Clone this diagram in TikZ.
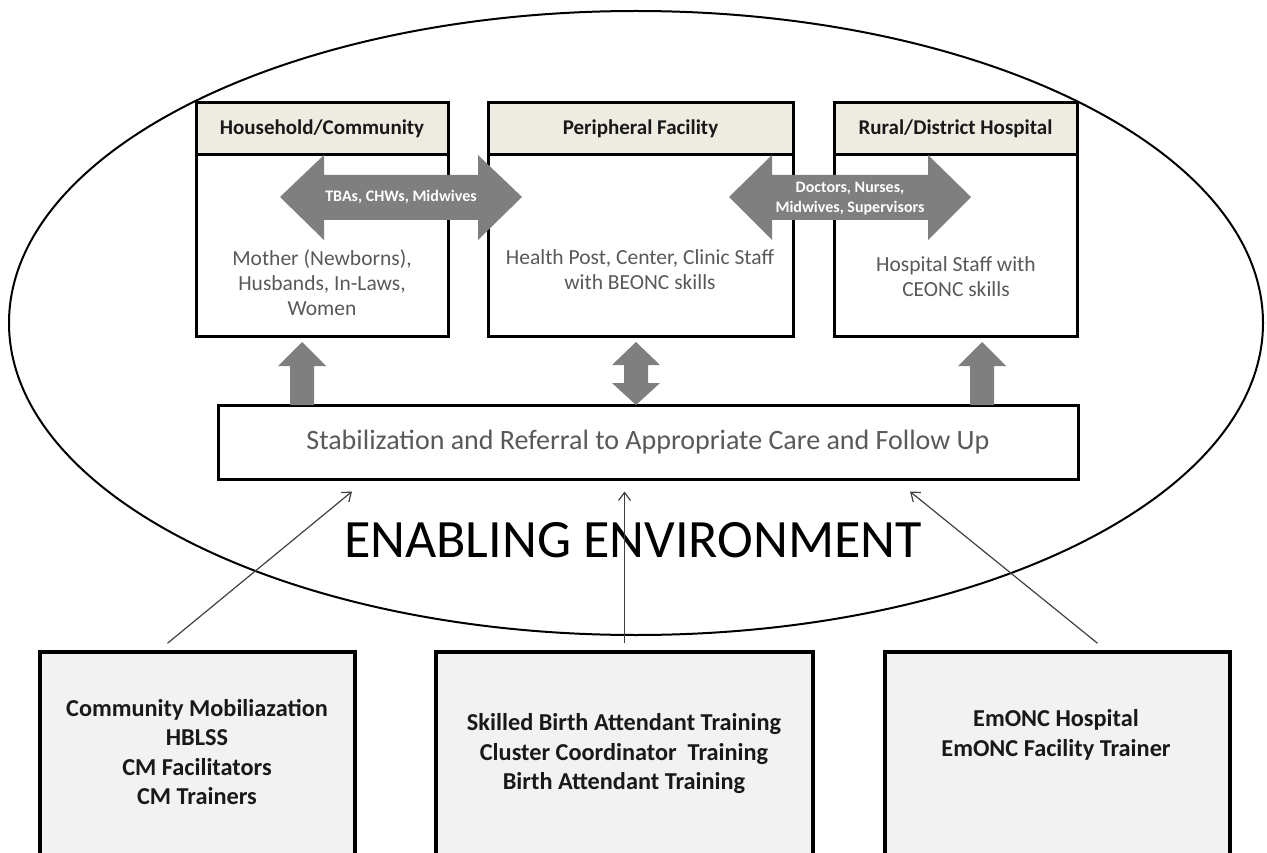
\documentclass[tikz,border=0pt]{standalone}
\usepackage{fontspec}
\setmainfont{Carlito}
\usepackage{tikz}
\usetikzlibrary{arrows.meta, positioning, calc}
\usepackage{xcolor}
\definecolor{headfill}{HTML}{EEECE1}
\definecolor{trainfill}{HTML}{F2F2F2}
\definecolor{blockgray}{HTML}{7F7F7F}
\definecolor{softtext}{HTML}{595959}

\begin{document}
\begin{tikzpicture}[x=1pt, y=-1pt,
  header/.style={draw, line width=3pt, fill=headfill, minimum height=52, inner sep=0pt, text=black!90, font=\bfseries\fontsize{21}{25}\selectfont},
  cell/.style={draw, line width=3pt, fill=white, minimum height=181, inner sep=0pt},
  celltext/.style={align=center, text=softtext, font=\fontsize{21.5}{25}\selectfont},
  blockarrow/.style={fill=blockgray},
  arrowtext/.style={align=center, text=white, font=\bfseries\fontsize{16}{20}\selectfont},
  trainbox/.style={draw, line width=3.5pt, fill=trainfill, minimum height=218, inner sep=0pt},
  traintext/.style={align=center, text=black!90, font=\bfseries\fontsize{24.3}{29.5}\selectfont},
  feed/.style={-{Straight Barb[length=8pt, width=12pt]}, line width=1.2pt, draw=black!75}]
  \useasboundingbox (0,0) rectangle (1267,853);

  % enabling environment
  \draw[line width=2pt] (636,323) ellipse [x radius=627pt, y radius=312pt];
  \node[font=\fontsize{54}{60}\selectfont] (env) at (633,540) {ENABLING ENVIRONMENT};

  % training boxes, cut by the page bottom
  \node[trainbox, minimum width=315] (cmbox) at (197.5,761) {};
  \node[trainbox, minimum width=377] (sbabox) at (624.5,761) {};
  \node[trainbox, minimum width=345] (emobox) at (1057.5,761) {};
  \node[traintext] (cmtext) at (197,752) {Community Mobiliazation\\HBLSS\\CM Facilitators\\CM Trainers};
  \node[traintext] (sbatext) at (624,754) {Skilled Birth Attendant Training\\Cluster Coordinator~ Training\\Birth Attendant Training};
  \node[traintext] (emotext) at (1056,735) {EmONC Hospital\\EmONC Facility Trainer};

  % levels of care
  \node[header, minimum width=252] (hhhead) at (322,129) {Household/Community};
  \node[header, minimum width=305] (pfhead) at (640.5,129) {Peripheral Facility};
  \node[header, minimum width=243] (dhhead) at (955.5,129) {Rural/District Hospital};
  \node[cell, minimum width=252] (hhbody) at (322,245.5) {};
  \node[cell, minimum width=305] (pfbody) at (640.5,245.5) {};
  \node[cell, minimum width=243] (dhbody) at (955.5,245.5) {};
  \node[celltext] (hhtext) at (322,283) {Mother (Newborns),\\Husbands, In-Laws,\\Women};
  \node[celltext] (pftext) at (640,270) {Health Post, Center, Clinic Staff\\with BEONC skills};
  \node[celltext] (dhtext) at (956,277) {Hospital Staff with\\CEONC skills};

  % staff moving between levels
  \fill[blockarrow] (280,197) -- (324,155) -- (324,175) -- (478,175) -- (478,155) -- (522,197)
    -- (478,240) -- (478,220) -- (324,220) -- (324,240) -- cycle;
  \fill[blockarrow] (729,197) -- (772,155) -- (772,175) -- (928,175) -- (928,155) -- (971,197)
    -- (928,240) -- (928,220) -- (772,220) -- (772,240) -- cycle;
  \node[arrowtext] (hhstaff) at (401,197) {TBAs, CHWs, Midwives};
  \node[arrowtext] (dhstaff) at (850,199) {Doctors, Nurses,\\Midwives, Supervisors};

  % referral
  \node[draw, line width=3pt, fill=white, minimum width=860, minimum height=74, text=softtext,
    font=\fontsize{28}{30}\selectfont] (stab) at (648,442) {Stabilization and Referral to Appropriate Care and Follow Up};
  \fill[blockarrow] (302,342) -- (326,366) -- (314,366) -- (314,405) -- (290,405) -- (290,366) -- (278,366) -- cycle;
  \fill[blockarrow] (982,342) -- (1006,366) -- (994,366) -- (994,405) -- (970,405) -- (970,366) -- (958,366) -- cycle;
  \fill[blockarrow] (636,342) -- (660,365) -- (648,365) -- (648,383) -- (660,383) -- (636,405)
    -- (612,383) -- (624,383) -- (624,365) -- (612,365) -- cycle;

  \draw[feed] ([xshift=-30pt, yshift=7pt]cmbox.north) -- ([xshift=-296pt, yshift=-11pt]stab.south);
  \draw[feed] ([yshift=7pt]sbabox.north) -- ([xshift=-23.5pt, yshift=-11pt]stab.south);
  \draw[feed] ([xshift=40pt, yshift=7pt]emobox.north) -- ([xshift=262pt, yshift=-11pt]stab.south);
\end{tikzpicture}
\end{document}
